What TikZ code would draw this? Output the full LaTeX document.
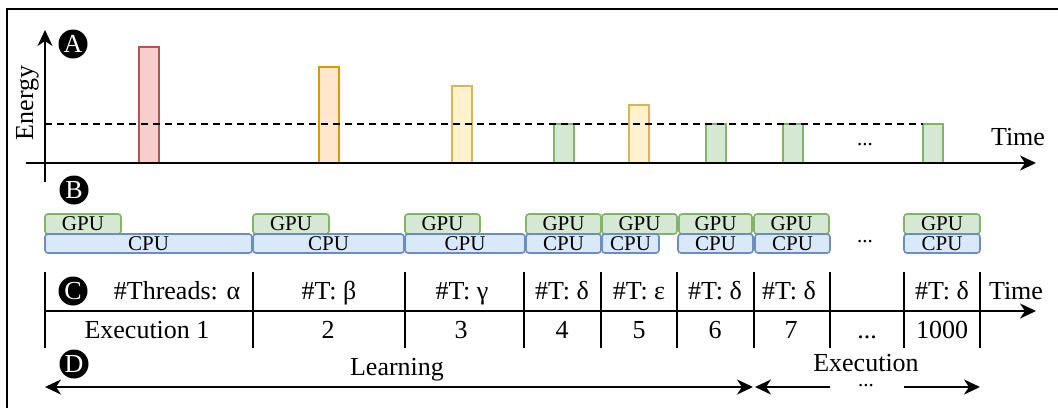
\documentclass[tikz,border=0pt]{standalone}
\usepackage{fontspec}
\setmainfont{Liberation Serif}
\usetikzlibrary{arrows.meta}
\definecolor{redfill}{HTML}{F8CECC}
\definecolor{redline}{HTML}{B85450}
\definecolor{orangefill}{HTML}{FFE6CC}
\definecolor{orangeline}{HTML}{D79B00}
\definecolor{yellowfill}{HTML}{FFF2CC}
\definecolor{yellowline}{HTML}{D6B656}
\definecolor{greenfill}{HTML}{D5E8D4}
\definecolor{greenline}{HTML}{82B366}
\definecolor{bluefill}{HTML}{DAE8FC}
\definecolor{blueline}{HTML}{6C8EBF}
\tikzset{
  tip/.tip={Stealth[length=8pt,width=7.5pt,inset=2.5pt]},
  axis/.style={line width=1pt, -tip},
  rule/.style={line width=1pt},
  bar/.style={draw=#1line, fill=#1fill, line width=1pt},
  unitbox/.style={rectangle, rounded corners=1.5pt, line width=0.8pt, inner sep=0pt,
    font=\fontsize{10.5}{10.5}\selectfont},
  gpubox/.style={unitbox, draw=greenline, fill=greenfill, minimum height=10pt},
  cpubox/.style={unitbox, draw=blueline, fill=bluefill, minimum height=9.5pt},
  badge/.style={circle, fill=black, text=white, inner sep=0pt, minimum size=14.5pt,
    font=\fontsize{13}{13}\selectfont},
  txt/.style={inner sep=0pt, anchor=base, font=\fontsize{13}{13}\selectfont},
  smalltxt/.style={txt, font=\fontsize{10.5}{10.5}\selectfont}
}

\begin{document}
\begin{tikzpicture}[x=0.5pt, y=-0.5pt]
      \useasboundingbox (0,0) rectangle (1058,408);
      % Frame
      \draw[line width=1pt] (1058,9) -- (7,9) -- (7,408);
      % Energy bars
      \foreach \x/\h/\c in {139/47/red, 319/67/orange, 452/86/yellow, 554/124/green,
          629/105/yellow, 706/124/green, 783/124/green, 923/124/green}{
          \draw[bar=\c] (\x,163) rectangle (\x+20,\h);
        }
      \draw[line width=1pt, dash pattern=on 3.5pt off 2.5pt] (45,124) -- (923,124);
      % Axes
      \coordinate (ebot) at (45,182);
      \coordinate (etop) at (45,30);
      \coordinate (tleft) at (26,163);
      \coordinate (tright) at (1036,163);
      \draw[axis] (ebot) -- (etop);
      \draw[axis] (tleft) -- (tright);
      \node[txt, rotate=90] (energy) at (33,103) {Energy};
      \node[txt] (time1) at (1018,145) {Time};
      \node[smalltxt] (dots1) at (865,145) {...};
      % Badges
      \node[badge] (A) at (73,44) {A};
      \node[badge] (B) at (74,190) {B};
      \node[badge] (C) at (73,291) {C};
      \node[badge] (D) at (74,364) {D};
      % GPU / CPU
      \foreach \a/\b [count=\i] in {45/121, 253/329, 405/480, 526/601,
          602/677, 679/752, 754/829, 904/980}{
          \node[gpubox, minimum width={(\b-\a)*0.5pt}] (gpu\i) at ({(\a+\b)/2},224) {GPU};
        }
      \foreach \a/\b [count=\i] in {45/252, 253/404, 405/525, 526/601,
          602/659, 678/753, 755/830, 904/980}{
          \node[cpubox, minimum width={(\b-\a)*0.5pt}] (cpu\i) at ({(\a+\b)/2},243.5) {CPU};
        }
      \node[smalltxt] (dots2) at (865,242) {...};
      % Table
      \coordinate (rowleft) at (45,311);
      \coordinate (rowright) at (1036,311);
      \draw[axis] (rowleft) -- (rowright);
      \foreach \x in {45,253,405,524,601,677,754,830,904,980}{
          \draw[rule] (\x,272) -- (\x,348);
        }
      \foreach \x/\t [count=\i] in {177/{\#Threads: α}, 329/{\#T: β}, 462/{\#T: γ},
          562/{\#T: δ}, 639/{\#T: ε}, 715/{\#T: δ}, 789/{\#T: δ}, 942/{\#T: δ}}{
          \node[txt] (thr\i) at (\x,299) {\t};
        }
      \node[txt] (time2) at (1016,299) {Time};
      \foreach \x/\t [count=\i] in {147/{Execution 1}, 328/2, 461/3, 562/4, 639/5,
          715/6, 791/7, 942/1000}{
          \node[txt] (run\i) at (\x,338) {\t};
        }
      \node[txt] (dots4) at (867,338) {...};
      % Phases
      \coordinate (learn0) at (45,387);
      \coordinate (learn1) at (753,387);
      \coordinate (exec0) at (755,387);
      \coordinate (exec1) at (830,387);
      \coordinate (exec2) at (904,387);
      \coordinate (exec3) at (980,387);
      \draw[axis, tip-tip] (learn0) -- (learn1);
      \draw[axis] (exec1) -- (exec0);
      \draw[axis] (exec2) -- (exec3);
      \node[txt] (learning) at (397,375) {Learning};
      \node[txt] (execution) at (866,371) {Execution};
      \node[smalltxt] (dots3) at (866,386) {...};
    \end{tikzpicture}
\end{document}
